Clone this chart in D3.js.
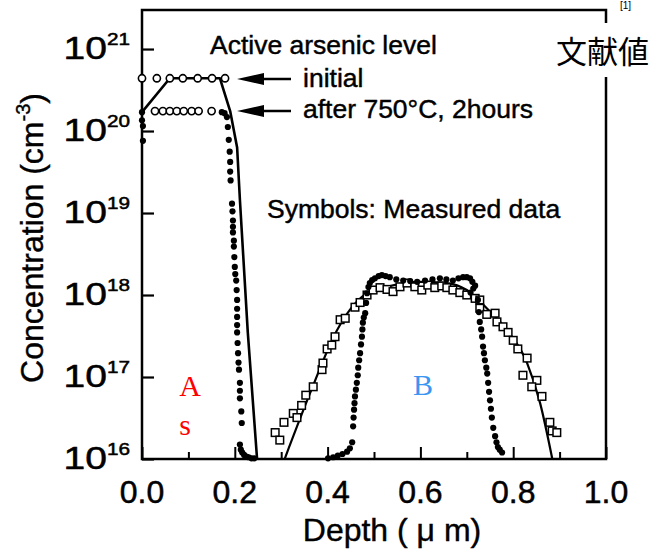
<!DOCTYPE html>
<html><head><meta charset="utf-8">
<script src="https://cdn.jsdelivr.net/npm/d3@7"></script>
<style>body{margin:0;background:#fff;} svg{display:block;font-family:"Liberation Sans",Arial,sans-serif;}</style>
</head><body><svg id="c" width="650" height="549"></svg>
<script>
// ---------- data ----------
const xTickValues = [0, 0.2, 0.4, 0.6, 0.8, 1.0];
const xTickLabels = ["0.0", "0.2", "0.4", "0.6", "0.8", "1.0"];
const xMinorTickValues = [0.1, 0.3, 0.5, 0.7, 0.9];
const yTickExponents = [16, 17, 18, 19, 20, 21];

// initial active arsenic level (open circles)
const initialDepth = [0.0, 0.032, 0.06, 0.088, 0.12, 0.151, 0.179];
const initialConc  = [4.4e20, 4.4e20, 4.4e20, 4.4e20, 4.4e20, 4.4e20, 4.4e20];

// after 750C, 2 hours (open circles)
const annealDepth = [0.028, 0.045, 0.06, 0.075, 0.09, 0.107, 0.122, 0.15];
const annealConc  = [1.75e20, 1.75e20, 1.75e20, 1.75e20, 1.75e20, 1.75e20, 1.75e20, 1.75e20];

// region A solid profile
const lineADepth = [0.0, 0.06, 0.168, 0.19, 0.205, 0.211, 0.228, 0.248];
const lineAConc  = [1.7e20, 4.4e20, 4.4e20, 1.75e20, 6.3e19, 1.45e19, 3.5e17, 1.0e16];

// region A filled dots (measured)
const dotsADepth = [0.0, 0.0, 0.002, 0.002, 0.172, 0.178, 0.183, 0.185, 0.187, 0.189, 0.19, 0.19, 0.191,
  0.194, 0.195, 0.196, 0.196, 0.196, 0.198, 0.198, 0.199, 0.2, 0.201, 0.203, 0.204, 0.205, 0.205, 0.205,
  0.205, 0.205, 0.206, 0.207, 0.208, 0.209, 0.211, 0.211, 0.211, 0.214, 0.215, 0.211, 0.213, 0.216, 0.22,
  0.225, 0.23, 0.236, 0.242];
const dotsAConc = [1.7e20, 1.35e20, 1.15e20, 7.6e19, 1.7e20, 1.65e20, 1.48e20, 1.12e20, 7.8e19, 5.6e19, 4.2e19, 3.2e19, 2.5e19,
  1.3e19, 1.05e19, 8.1e18, 6.8e18, 5.8e18, 4.6e18, 3.9e18, 2.9e18, 2.2e18, 1.8e18, 1.5e18, 1.15e18, 8.7e17, 6.8e17, 5.4e17,
  4.3e17, 3.5e17, 2.6e17, 1.95e17, 1.5e17, 1.23e17, 8.5e16, 6.8e16, 5.5e16, 3.8e16, 2.75e16, 1.5e16, 1.3e16, 1.2e16, 1.12e16,
  1.07e16, 1.05e16, 1.02e16, 1.02e16];

// region B solid profile
const lineBDepth = [0.308, 0.362, 0.42, 0.448, 0.485, 0.528, 0.599, 0.657, 0.70, 0.743, 0.787, 0.83, 0.858, 0.884];
const lineBConc  = [1.02e16, 6.3e16, 3.7e17, 6.6e17, 1.05e18, 1.26e18, 1.45e18, 1.4e18, 1.15e18, 6.9e17, 3.7e17, 1.48e17, 4.8e16, 1.02e16];

// region B open squares (measured)
const squaresBDepth = [0.287, 0.297, 0.306, 0.326, 0.334, 0.344, 0.353, 0.369, 0.388, 0.39, 0.399, 0.409, 0.416,
  0.427, 0.438, 0.459, 0.47, 0.485, 0.498, 0.513, 0.528, 0.541, 0.556, 0.571, 0.588, 0.603, 0.616, 0.631, 0.646,
  0.657, 0.67, 0.685, 0.70, 0.718, 0.728, 0.728, 0.743, 0.761, 0.765, 0.778, 0.789, 0.80, 0.81, 0.83, 0.821,
  0.851, 0.84, 0.862, 0.879, 0.884, 0.894];
const squaresBConc = [2.1e16, 1.7e16, 2.8e16, 3.6e16, 3.2e16, 4.5e16, 6.0e16, 7.6e16, 1.23e17, 1.48e17, 2.2e17, 2.45e17, 3.1e17,
  5.0e17, 5.2e17, 7.1e17, 8.1e17, 1.0e18, 1.15e18, 1.23e18, 1.17e18, 1.1e18, 1.26e18, 1.4e18, 1.26e18, 1.15e18, 1.32e18, 1.23e18, 1.29e18,
  1.23e18, 1.15e18, 1.07e18, 1.0e18, 9.1e17, 8.7e17, 6.9e17, 5.8e17, 6.0e17, 4.7e17, 4.1e17, 3.5e17, 2.8e17, 2.2e17, 1.7e17, 1.05e17,
  9.1e16, 7.6e16, 5.8e16, 2.8e16, 2.2e16, 2.1e16];

// region B filled dots (measured)
const dotsBDepth = [0.401, 0.412, 0.422, 0.432, 0.442, 0.448, 0.453, 0.455, 0.456, 0.457, 0.458, 0.459, 0.461, 0.463, 0.465,
  0.466, 0.468, 0.47, 0.472, 0.474, 0.475, 0.476, 0.478, 0.481, 0.483, 0.485, 0.488, 0.491, 0.496, 0.502, 0.51, 0.517,
  0.525, 0.534, 0.548, 0.563, 0.578, 0.593, 0.61, 0.626, 0.642, 0.656, 0.67, 0.682, 0.692, 0.7, 0.707, 0.712, 0.714,
  0.708, 0.718, 0.724, 0.726, 0.728, 0.731, 0.733, 0.735, 0.737, 0.739, 0.742, 0.744, 0.746, 0.748, 0.75, 0.752, 0.754,
  0.757, 0.761, 0.764, 0.767, 0.771, 0.776];
const dotsBConc = [1.02e16, 1.05e16, 1.1e16, 1.15e16, 1.23e16, 1.35e16, 1.6e16, 2.5e16, 3.2e16, 4.0e16, 4.8e16, 5.8e16, 7.0e16, 8.5e16, 1.05e17,
  1.3e17, 1.6e17, 1.95e17, 2.5e17, 3.1e17, 3.8e17, 4.6e17, 5.3e17, 6.0e17, 8.0e17, 1.05e18, 1.25e18, 1.4e18, 1.52e18, 1.6e18, 1.7e18, 1.75e18,
  1.7e18, 1.65e18, 1.55e18, 1.5e18, 1.48e18, 1.45e18, 1.5e18, 1.55e18, 1.6e18, 1.55e18, 1.5e18, 1.6e18, 1.65e18, 1.65e18, 1.6e18, 1.45e18, 1.2e18,
  1.07e18, 1.3e18, 8.7e17, 6.2e17, 4.7e17, 3.8e17, 3.1e17, 2.35e17, 1.95e17, 1.6e17, 1.3e17, 1.1e17, 8.5e16, 6.6e16, 5.2e16, 4.1e16, 3.2e16,
  2.4e16, 1.9e16, 1.6e16, 1.4e16, 1.3e16, 1.2e16];

// ---------- drawing ----------
const svg = d3.select("#c");
const x = d3.scaleLinear().domain([0, 1]).range([142, 606]);
const y = d3.scaleLog().domain([1e16, Math.pow(10, 21.476)]).range([459, 10]);
const zip = (a, b) => a.map((d, i) => [d, b[i]]);

// plot frame
svg.append("rect").attr("x", x(0)).attr("y", y.range()[1])
  .attr("width", x(1) - x(0)).attr("height", y.range()[0] - y.range()[1])
  .attr("fill", "none").attr("stroke", "#000").attr("stroke-width", 2.5);

// left axis ticks (inward) and labels
const yAxis = d3.axisRight(y).tickValues(yTickExponents.map(e => Math.pow(10, e))).tickSize(12).tickFormat("");
const gy = svg.append("g").attr("transform", `translate(${x(0)},0)`).call(yAxis);
gy.select(".domain").remove();
gy.selectAll(".tick line").attr("stroke", "#000").attr("stroke-width", 2.2);

yTickExponents.forEach(e => {
  const g = svg.append("g").attr("transform", `translate(130,${y(Math.pow(10, e)) + 10}) scale(1.22,1)`);
  const t = g.append("text").attr("text-anchor", "end").attr("font-size", 32).attr("fill", "#000")
    .attr("stroke", "#000").attr("stroke-width", 0.5);
  t.append("tspan").text("10");
  t.append("tspan").attr("font-size", 17).attr("dy", -14).text(String(e));
});

// bottom axis ticks (inward)
const xAxis = d3.axisTop(x).tickValues(xTickValues).tickSize(12).tickFormat("");
const gx = svg.append("g").attr("transform", `translate(0,${y(1e16)})`).call(xAxis);
gx.select(".domain").remove();
gx.selectAll(".tick line").attr("stroke", "#000").attr("stroke-width", 2);
const xAxisMinor = d3.axisTop(x).tickValues(xMinorTickValues).tickSize(7).tickFormat("");
const gxm = svg.append("g").attr("transform", `translate(0,${y(1e16)})`).call(xAxisMinor);
gxm.select(".domain").remove();
gxm.selectAll(".tick line").attr("stroke", "#000").attr("stroke-width", 2);

svg.append("g").selectAll("text").data(xTickValues).join("text")
  .attr("x", d => x(d)).attr("y", 503).attr("text-anchor", "middle")
  .attr("font-size", 32).attr("stroke", "#000").attr("stroke-width", 0.5)
  .text((d, i) => xTickLabels[i]);

// axis titles
svg.append("text").attr("x", 392).attr("y", 541).attr("text-anchor", "middle")
  .attr("font-size", 32).attr("stroke", "#000").attr("stroke-width", 0.4)
  .text("Depth ( \u03bc m)");
const yt = svg.append("text").attr("transform", "translate(43,238) rotate(-90)")
  .attr("text-anchor", "middle").attr("font-size", 32).attr("stroke", "#000").attr("stroke-width", 0.4);
yt.append("tspan").text("Concentration (cm");
yt.append("tspan").attr("font-size", 20).attr("dy", -13).text("-3");
yt.append("tspan").attr("dy", 13).text(")");

// lines
const line = d3.line().x(d => x(d[0])).y(d => y(d[1]));
svg.append("path").datum(zip(lineADepth, lineAConc)).attr("d", line)
  .attr("fill", "none").attr("stroke", "#000").attr("stroke-width", 2.6).attr("stroke-linejoin", "round");
svg.append("path").datum(zip(lineBDepth, lineBConc)).attr("d", d3.line().curve(d3.curveMonotoneX).x(d => x(d[0])).y(d => y(d[1])))
  .attr("fill", "none").attr("stroke", "#000").attr("stroke-width", 2.2);

// squares
svg.append("g").selectAll("rect").data(zip(squaresBDepth, squaresBConc)).join("rect")
  .attr("x", d => x(d[0]) - 3.8).attr("y", d => y(d[1]) - 3.8).attr("width", 7.6).attr("height", 7.6)
  .attr("fill", "#fff").attr("stroke", "#000").attr("stroke-width", 1.5);

// filled dots
svg.append("g").selectAll("circle").data(zip(dotsADepth, dotsAConc).concat(zip(dotsBDepth, dotsBConc))).join("circle")
  .attr("cx", d => x(d[0])).attr("cy", d => y(d[1])).attr("r", 3.1).attr("fill", "#000");

// open circles
svg.append("g").selectAll("circle").data(zip(initialDepth, initialConc).concat(zip(annealDepth, annealConc))).join("circle")
  .attr("cx", d => x(d[0])).attr("cy", d => y(d[1])).attr("r", 3.6)
  .attr("fill", "#fff").attr("stroke", "#000").attr("stroke-width", 1.6);

// legend texts & arrows
const txt = (tx, ty, s) => svg.append("text").attr("x", tx).attr("y", ty).attr("font-size", 26.5)
  .attr("stroke", "#000").attr("stroke-width", 0.45).text(s);
txt(210, 54, "Active arsenic level");
txt(303, 87, "initial");
txt(303, 118, "after 750\u00b0C, 2hours");
txt(267, 218, "Symbols: Measured data");

function arrow(tipX, tipY) {
  svg.append("line").attr("x1", tipX + 20).attr("x2", tipX + 54).attr("y1", tipY).attr("y2", tipY)
    .attr("stroke", "#000").attr("stroke-width", 2.6);
  svg.append("path").attr("d", `M${tipX},${tipY} L${tipX + 27},${tipY - 6} L${tipX + 27},${tipY + 6} Z`).attr("fill", "#000");
}
arrow(237, 79);
arrow(237, 111);

// region labels
svg.append("text").attr("x", 190).attr("y", 396).attr("text-anchor", "middle")
  .attr("font-family", "Liberation Serif, serif").attr("font-size", 30).attr("fill", "#ff0000").text("A");
svg.append("text").attr("x", 185).attr("y", 435).attr("text-anchor", "middle")
  .attr("font-family", "Liberation Serif, serif").attr("font-size", 30).attr("fill", "#ff0000").text("s");
svg.append("text").attr("x", 423).attr("y", 395).attr("text-anchor", "middle")
  .attr("font-family", "Liberation Serif, serif").attr("font-size", 30).attr("fill", "#3a96f2").text("B");

// reference note (top right)
svg.append("rect").attr("x", 550).attr("y", 23).attr("width", 100).attr("height", 54).attr("fill", "#fff");
svg.append("text").attr("x", 556).attr("y", 63).attr("font-family", "'Noto Sans CJK JP', sans-serif")
  .attr("font-size", 31).attr("fill", "#000").text("文献値");
svg.append("text").attr("x", 620).attr("y", 9).attr("font-size", 10).attr("fill", "#000").text("[1]");
</script></body></html>
